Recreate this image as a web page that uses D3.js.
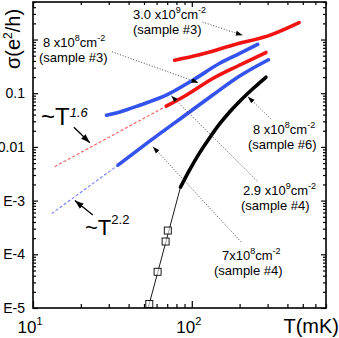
<!DOCTYPE html>
<html>
<head>
<meta charset="utf-8">
<script src="https://cdn.jsdelivr.net/npm/d3@7"></script>
<style>
  body { margin: 0; background: #fff; }
  text { font-family: "Liberation Sans", Arial, sans-serif; fill: #000; }
</style>
</head>
<body>
<div class="chart"></div>
<script>
// temperature (mK) and conductivity (e^2/h)
var redTopT = [77.9, 111.7, 180, 321, 474];
var redTopS = [0.411, 0.52, 0.782, 1.25, 2.07];

var blueTopT = [29.0, 35.2, 47.0, 69.0, 101.5, 149, 199, 260];
var blueTopS = [0.039, 0.0449, 0.0598, 0.0918, 0.175, 0.357, 0.548, 0.816];

var redMidT = [69.0, 92.2, 135.5, 199, 293];
var redMidS = [0.0573, 0.0918, 0.188, 0.332, 0.574];

var blueLowT = [34.3, 54.3, 92.6, 134.9, 199, 304];
var blueLowS = [0.00457, 0.0128, 0.0407, 0.0918, 0.207, 0.42];

var blackT = [84.9, 96.7, 111.7, 129.1, 149.2, 172.5, 199, 240.4, 293];
var blackS = [0.00178, 0.00369, 0.00765, 0.01455, 0.0265, 0.0443, 0.0695, 0.1187, 0.1985];

var thinT = [52.3, 84.9];
var thinS = [8.4e-6, 0.00178];

var squareT = [54.0, 60.9, 68.4, 70.6];
var squareS = [1.19e-5, 4.73e-5, 1.73e-4, 2.77e-4];

// power-law guides ~T^1.6 and ~T^2.2
var redDashT = [13.7, 69.0];
var redDashS = [0.00429, 0.0573];
var blueDashT = [13.1, 34.3];
var blueDashS = [5.73e-4, 0.00457];

var xTickValues = [10, 100];
var xTickSups = ["1", "2"];
var yTickValues = [1e-5, 1e-4, 1e-3, 0.01, 0.1];
var yTickLabels = ["E-5", "E-4", "E-3", "0.01", "0.1"];

// annotation arrows: [T0, s0, T1, s1] (tail -> head)
var dottedArrows = [
  [116.7, 2.12, 209, 1.2],
  [31.5, 0.59, 110.2, 0.157],
  [316, 0.0328, 225.4, 0.0861],
  [258.5, 0.00231, 74.3, 0.0899],
  [204.2, 1.71e-4, 56.9, 0.0101]
];
var solidArrows = [
  [18.1, 0.0233, 22.8, 0.012],
  [23.8, 5.37e-4, 18.35, 1e-3]
];

var margin = { top: 2, right: 13, bottom: 30, left: 33 };
var width = 339 - margin.left - margin.right;
var height = 338 - margin.top - margin.bottom;

var svg = d3
  .select(".chart")
  .append("svg")
  .attr("width", 339)
  .attr("height", 338);

var defs = svg.append("defs");
defs.append("clipPath").attr("id", "clip")
  .append("rect").attr("width", width).attr("height", height);

function addMarker(id, size) {
  defs.append("marker")
    .attr("id", id)
    .attr("viewBox", "0 0 10 10")
    .attr("refX", 10).attr("refY", 5)
    .attr("markerWidth", size).attr("markerHeight", size)
    .attr("markerUnits", "userSpaceOnUse")
    .attr("orient", "auto")
    .append("path")
    .attr("d", "M0,1.5L10,5L0,8.5Z")
    .attr("fill", "#000");
}
addMarker("headSmall", 7);
addMarker("headBig", 9);

var g = svg.append("g")
  .attr("transform", `translate(${margin.left}, ${margin.top})`);

var x = d3.scaleLog().domain([10, 700]).range([0, width]);
var y = d3.scaleLog().domain([1e-5, 5]).range([height, 0]);

// minor ticks
var xMinor = x.ticks().filter(d => xTickValues.indexOf(d) < 0);
var yMinor = y.ticks().filter(d => yTickValues.indexOf(d) < 0 && d !== 1);

g.append("g").attr("class", "ax")
  .attr("transform", `translate(0, ${height})`)
  .call(d3.axisBottom(x).tickValues(xMinor).tickSize(-4).tickFormat(""));
g.append("g").attr("class", "ax")
  .attr("transform", `translate(0, ${height})`)
  .call(d3.axisBottom(x).tickValues(xTickValues).tickSize(-7).tickFormat(""));
g.append("g").attr("class", "ax")
  .call(d3.axisTop(x).tickValues(xMinor).tickSize(-3).tickFormat(""));
g.append("g").attr("class", "ax")
  .call(d3.axisTop(x).tickValues(xTickValues).tickSize(-5).tickFormat(""));

g.append("g").attr("class", "ax")
  .call(d3.axisLeft(y).tickValues(yMinor).tickSize(-3).tickFormat(""));
g.append("g").attr("class", "ax")
  .call(d3.axisLeft(y).tickValues(yTickValues.concat([1])).tickSize(-5)
    .tickPadding(8)
    .tickFormat(d => { var i = yTickValues.indexOf(d); return i < 0 ? "" : yTickLabels[i]; }));
g.append("g").attr("class", "ax")
  .attr("transform", `translate(${width}, 0)`)
  .call(d3.axisRight(y).tickValues(yMinor).tickSize(-3).tickFormat(""));
g.append("g").attr("class", "ax")
  .attr("transform", `translate(${width}, 0)`)
  .call(d3.axisRight(y).tickValues(yTickValues.concat([1])).tickSize(-5).tickFormat(""));

g.selectAll(".ax .domain").remove();
g.selectAll(".ax line").attr("stroke", "#000").attr("stroke-width", 1.2);
g.selectAll(".ax text")
  .style("font-family", "'Liberation Sans', Arial, sans-serif")
  .style("font-size", "14px");

// frame
g.append("rect")
  .attr("width", width).attr("height", height)
  .attr("fill", "none").attr("stroke", "#000").attr("stroke-width", 1.6);

// x tick labels 10^n
xTickValues.forEach((v, i) => {
  var t = g.append("text")
    .attr("x", x(v) - 3).attr("y", height + 25)
    .attr("text-anchor", "middle")
    .style("font-size", "17px");
  t.append("tspan").text("10");
  t.append("tspan").attr("dy", -8).style("font-size", "11px").text(xTickSups[i]);
});

// axis titles
svg.append("text")
  .attr("x", 339).attr("y", 333)
  .attr("text-anchor", "end")
  .style("font-size", "20px")
  .text("T(mK)");

var yt = svg.append("text")
  .attr("transform", "translate(20, 39) rotate(-90)")
  .attr("text-anchor", "middle")
  .style("font-size", "20px");
yt.append("tspan").text("\u03c3(e");
yt.append("tspan").attr("dy", -8).style("font-size", "12px").text("2");
yt.append("tspan").attr("dy", 8).text("/h)");

var plot = g.append("g").attr("clip-path", "url(#clip)");

function pts(ts, ss) { return ts.map((t, i) => [t, ss[i]]); }

var smooth = d3.line().x(d => x(d[0])).y(d => y(d[1])).curve(d3.curveMonotoneX);
var straight = d3.line().x(d => x(d[0])).y(d => y(d[1]));

// dashed power-law guides
plot.append("path").attr("d", straight(pts(redDashT, redDashS)))
  .attr("fill", "none").attr("stroke", "#ff5a5a").attr("stroke-width", 1.1)
  .attr("stroke-dasharray", "3,2");
plot.append("path").attr("d", straight(pts(blueDashT, blueDashS)))
  .attr("fill", "none").attr("stroke", "#6f7fff").attr("stroke-width", 1.1)
  .attr("stroke-dasharray", "3,2");

// thin line with square points
plot.append("path").attr("d", straight(pts(thinT, thinS)))
  .attr("fill", "none").attr("stroke", "#000").attr("stroke-width", 0.9);

var series = [
  [redTopT, redTopS, "#f21212"],
  [blueTopT, blueTopS, "#3352ee"],
  [redMidT, redMidS, "#f21212"],
  [blueLowT, blueLowS, "#3352ee"],
  [blackT, blackS, "#000"]
];
series.forEach(s => {
  plot.append("path").attr("d", smooth(pts(s[0], s[1])))
    .attr("fill", "none").attr("stroke", s[2])
    .attr("stroke-width", 3.6).attr("stroke-linecap", "round");
});

plot.selectAll("rect.sq")
  .data(pts(squareT, squareS))
  .enter().append("rect")
  .attr("class", "sq")
  .attr("x", d => x(d[0]) - 3.5).attr("y", d => y(d[1]) - 3.5)
  .attr("width", 7).attr("height", 7)
  .attr("fill", "#fff").attr("fill-opacity", 0.6)
  .attr("stroke", "#000").attr("stroke-width", 0.9);

// arrows
g.selectAll("line.dot")
  .data(dottedArrows)
  .enter().append("line")
  .attr("class", "dot")
  .attr("x1", d => x(d[0])).attr("y1", d => y(d[1]))
  .attr("x2", d => x(d[2])).attr("y2", d => y(d[3]))
  .attr("stroke", "#333").attr("stroke-width", 0.9)
  .attr("stroke-dasharray", "1,1.8")
  .attr("marker-end", "url(#headSmall)");

g.selectAll("line.solid")
  .data(solidArrows)
  .enter().append("line")
  .attr("class", "solid")
  .attr("x1", d => x(d[0])).attr("y1", d => y(d[1]))
  .attr("x2", d => x(d[2])).attr("y2", d => y(d[3]))
  .attr("stroke", "#000").attr("stroke-width", 1.3)
  .attr("marker-end", "url(#headBig)");

// density labels
function density(px, py, head, sup, sample) {
  var t = svg.append("text").attr("x", px).attr("y", py).style("font-size", "13px");
  t.append("tspan").text(head);
  t.append("tspan").attr("dy", -6).style("font-size", "9px").text(sup);
  t.append("tspan").attr("dy", 6).text("cm");
  t.append("tspan").attr("dy", -6).style("font-size", "9px").text("-2");
  svg.append("text").attr("x", px - (sample.x || 0)).attr("y", py + 14.5)
    .style("font-size", "13px").text(sample.text);
}
density(133, 19, "3.0 x10", "9", { text: "(sample #3)", x: 0 });
density(43, 47, "8 x10", "8", { text: "(sample #3)", x: 4 });
density(253, 134, "8 x10", "8", { text: "(sample #6)", x: 5 });
density(243, 195, "2.9 x10", "9", { text: "(sample #4)", x: 2 });
density(222, 260, "7x10", "8", { text: "(sample #4)", x: 8 });

// power-law labels
var p1 = svg.append("text").attr("x", 41).attr("y", 125).style("font-size", "24px");
p1.append("tspan").text("~T");
p1.append("tspan").attr("dy", -8).style("font-size", "13px").style("font-style", "italic").text("1.6");

var p2 = svg.append("text").attr("x", 85).attr("y", 235).style("font-size", "22px");
p2.append("tspan").text("~T");
p2.append("tspan").attr("dy", -11).style("font-size", "13px").text("2.2");
</script>
</body>
</html>
